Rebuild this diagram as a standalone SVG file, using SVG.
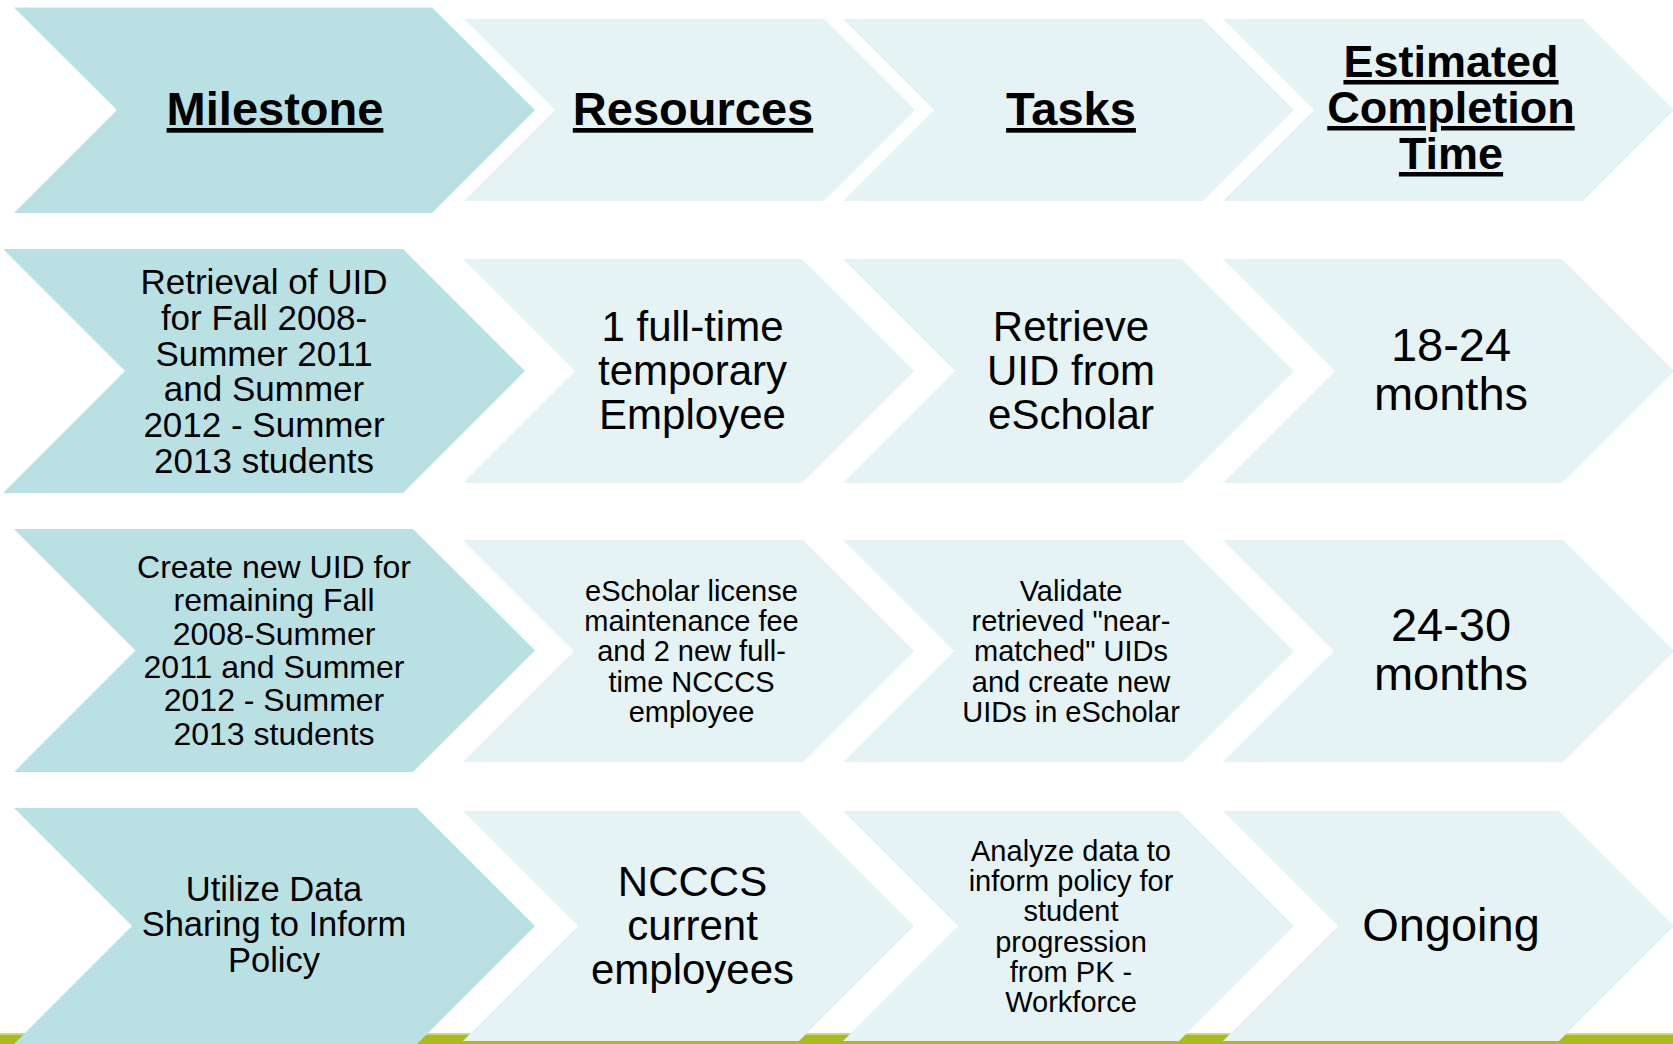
<svg xmlns="http://www.w3.org/2000/svg" width="1673" height="1044" viewBox="0 0 1673 1044">
<style>
.dark{fill:#B9E0E3;}
.light{fill:#E6F3F4;}
text{font-family:"Liberation Sans",Arial,sans-serif;fill:#000;text-anchor:middle;}
.hd{font-weight:bold;text-decoration:underline;}
</style>
<rect width="1673" height="1044" fill="#FFFFFF"/>
<g id="band">
<rect x="0" y="1033" width="1673" height="11" fill="#A9BB1D"/>
<rect x="0" y="1033" width="1673" height="2" fill="#CBD67A"/>
</g>
<g id="connectors"></g>

<g id="hdr-milestone">
<polygon class="dark" points="14,7.5 432,7.5 535,110 432,213 14,213 117,110"/>
<text class="hd" x="275" y="125" font-size="47">Milestone</text>
</g>
<g id="hdr-resources">
<polygon class="light" points="464,19 824,19 915,110 824,201 464,201 555,110"/>
<text class="hd" x="693" y="125" font-size="47">Resources</text>
</g>
<g id="hdr-tasks">
<polygon class="light" points="843,19 1203,19 1294,110 1203,201 843,201 934,110"/>
<text class="hd" x="1071" y="125" font-size="47">Tasks</text>
</g>
<g id="hdr-time">
<polygon class="light" points="1223,19 1583,19 1674,110 1583,201 1223,201 1314,110"/>
<text class="hd" font-size="45"><tspan x="1451" y="77">Estimated</tspan><tspan x="1451" y="123">Completion</tspan><tspan x="1451" y="169">Time</tspan></text>
</g>

<g id="r1-milestone">
<polygon class="dark" points="3,249 403,249 525,371 403,493 3,493 125,371"/>
<text font-size="35"><tspan x="264" y="294">Retrieval of UID</tspan><tspan x="264" y="329.8">for Fall 2008-</tspan><tspan x="264" y="365.6">Summer 2011</tspan><tspan x="264" y="401.4">and Summer</tspan><tspan x="264" y="437.2">2012 - Summer</tspan><tspan x="264" y="473">2013 students</tspan></text>
</g>
<g id="r1-resources">
<polygon class="light" points="463,259 802,259 914,371 802,483 463,483 575,371"/>
<text font-size="42"><tspan x="692.5" y="341">1 full-time</tspan><tspan x="692.5" y="385">temporary</tspan><tspan x="692.5" y="429">Employee</tspan></text>
</g>
<g id="r1-tasks">
<polygon class="light" points="843,259 1182,259 1294,371 1182,483 843,483 955,371"/>
<text font-size="42"><tspan x="1071" y="341">Retrieve</tspan><tspan x="1071" y="385">UID from</tspan><tspan x="1071" y="429">eScholar</tspan></text>
</g>
<g id="r1-time">
<polygon class="light" points="1223,259 1562,259 1674,371 1562,483 1223,483 1335,371"/>
<text font-size="47"><tspan x="1451" y="360.5">18-24</tspan><tspan x="1451" y="409.5">months</tspan></text>
</g>

<g id="r2-milestone">
<polygon class="dark" points="14,529 413,529 535,650.5 413,772 14,772 135.5,650.5"/>
<text font-size="32"><tspan x="274" y="578">Create new UID for</tspan><tspan x="274" y="611.3">remaining Fall</tspan><tspan x="274" y="644.6">2008-Summer</tspan><tspan x="274" y="677.9">2011 and Summer</tspan><tspan x="274" y="711.2">2012 - Summer</tspan><tspan x="274" y="744.5">2013 students</tspan></text>
</g>
<g id="r2-resources">
<polygon class="light" points="463,540 803,540 914,651 803,762 463,762 574,651"/>
<text font-size="29"><tspan x="691.5" y="601">eScholar license</tspan><tspan x="691.5" y="631.2">maintenance fee</tspan><tspan x="691.5" y="661.4">and 2 new full-</tspan><tspan x="691.5" y="691.6">time NCCCS</tspan><tspan x="691.5" y="721.8">employee</tspan></text>
</g>
<g id="r2-tasks">
<polygon class="light" points="843,540 1183,540 1294,651 1183,762 843,762 954,651"/>
<text font-size="29"><tspan x="1071" y="601">Validate</tspan><tspan x="1071" y="631.2">retrieved "near-</tspan><tspan x="1071" y="661.4">matched" UIDs</tspan><tspan x="1071" y="691.6">and create new</tspan><tspan x="1071" y="721.8">UIDs in eScholar</tspan></text>
</g>
<g id="r2-time">
<polygon class="light" points="1223,540 1563,540 1674,651 1563,762 1223,762 1334,651"/>
<text font-size="47"><tspan x="1451" y="640.5">24-30</tspan><tspan x="1451" y="689.5">months</tspan></text>
</g>

<g id="r3-milestone">
<polygon class="dark" points="14,808 417,808 535,926 417,1044 14,1044 132,926"/>
<text font-size="34.5"><tspan x="274" y="900.7">Utilize Data</tspan><tspan x="274" y="936.4">Sharing to Inform</tspan><tspan x="274" y="972.1">Policy</tspan></text>
</g>
<g id="r3-resources">
<polygon class="light" points="463,811 799,811 914,926 799,1041 463,1041 578,926"/>
<text font-size="42"><tspan x="692.5" y="896">NCCCS</tspan><tspan x="692.5" y="940">current</tspan><tspan x="692.5" y="984">employees</tspan></text>
</g>
<g id="r3-tasks">
<polygon class="light" points="843,811 1179,811 1294,926 1179,1041 843,1041 958,926"/>
<text font-size="29"><tspan x="1071" y="861">Analyze data to</tspan><tspan x="1071" y="891.2">inform policy for</tspan><tspan x="1071" y="921.4">student</tspan><tspan x="1071" y="951.6">progression</tspan><tspan x="1071" y="981.8">from PK -</tspan><tspan x="1071" y="1012">Workforce</tspan></text>
</g>
<g id="r3-time">
<polygon class="light" points="1223,811 1559,811 1674,926 1559,1041 1223,1041 1338,926"/>
<text font-size="47" x="1451" y="941">Ongoing</text>
</g>
</svg>
